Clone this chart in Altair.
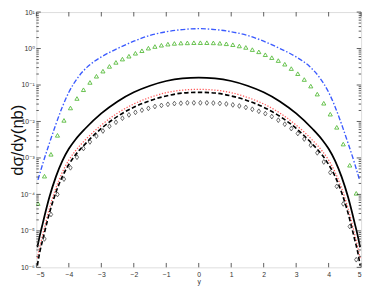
import altair as alt
import pandas as pd

# ---------------- data (log10 of dσ/dy) ----------------
y_line = [-4.97, -4.9, -4.8, -4.6, -4.4, -4.2, -4.0, -3.8, -3.5, -3.0, -2.5, -2.0, -1.5, -1.0, -0.5, 0.0,
          0.5, 1.0, 1.5, 2.0, 2.5, 3.0, 3.5, 3.8, 4.0, 4.2, 4.4, 4.6, 4.8, 4.9, 4.97]
solid_log = [-5.45, -5.15, -4.78, -4.08, -3.52, -3.08, -2.75, -2.50, -2.20, -1.78, -1.45, -1.20, -1.02, -0.89, -0.82, -0.80,
             -0.82, -0.89, -1.02, -1.20, -1.45, -1.78, -2.20, -2.50, -2.75, -3.08, -3.52, -4.08, -4.78, -5.15, -5.45]
red_log = [-5.75, -5.46, -5.09, -4.39, -3.83, -3.39, -3.06, -2.81, -2.51, -2.10, -1.77, -1.52, -1.34, -1.21, -1.14, -1.12,
           -1.14, -1.21, -1.34, -1.52, -1.77, -2.10, -2.51, -2.81, -3.06, -3.39, -3.83, -4.39, -5.09, -5.46, -5.75]
dash_log = [-5.95, -5.60, -5.23, -4.52, -3.95, -3.51, -3.18, -2.92, -2.62, -2.19, -1.86, -1.61, -1.43, -1.30, -1.22, -1.20,
            -1.22, -1.30, -1.43, -1.61, -1.86, -2.19, -2.62, -2.92, -3.18, -3.51, -3.95, -4.52, -5.23, -5.60, -5.95]

y_blue = [-4.95, -4.8, -4.6, -4.4, -4.2, -4.0, -3.7, -3.4, -3.0, -2.5, -2.0, -1.5, -1.0, -0.5, 0.0,
          0.5, 1.0, 1.5, 2.0, 2.5, 3.0, 3.4, 3.7, 4.0, 4.2, 4.4, 4.6, 4.8, 4.95]
blue_log = [-3.60, -3.15, -2.60, -2.08, -1.60, -1.20, -0.77, -0.48, -0.23, 0.00, 0.20, 0.36, 0.46, 0.52, 0.545,
            0.52, 0.46, 0.36, 0.20, 0.00, -0.23, -0.48, -0.77, -1.20, -1.60, -2.08, -2.60, -3.15, -3.60]

y_mark = [-4.95, -4.75, -4.55, -4.35, -4.15, -3.95, -3.75, -3.55, -3.35, -3.15, -2.95, -2.75, -2.55, -2.35, -2.15,
          -1.95, -1.75, -1.55, -1.35, -1.15, -0.95, -0.75, -0.55, -0.35, -0.15,
          0.05, 0.25, 0.45, 0.65, 0.85, 1.05, 1.25, 1.45, 1.65, 1.85, 2.05, 2.25, 2.45, 2.65, 2.85,
          3.05, 3.25, 3.45, 3.65, 3.85, 4.05, 4.25, 4.45, 4.65, 4.85]
tri_log = [-4.25, -3.50, -2.90, -2.38, -1.97, -1.63, -1.37, -1.13, -0.93, -0.76, -0.62, -0.49, -0.38, -0.29, -0.21,
           -0.13, -0.06, 0.01, 0.055, 0.09, 0.12, 0.14, 0.15, 0.155, 0.16,
           0.16, 0.16, 0.155, 0.145, 0.13, 0.105, 0.07, 0.03, -0.03, -0.09, -0.17, -0.25, -0.33, -0.43, -0.55,
           -0.69, -0.85, -1.03, -1.25, -1.50, -1.80, -2.16, -2.62, -3.20, -3.97]
dia_log = [-6.10, -5.22, -4.55, -4.00, -3.58, -3.27, -2.98, -2.74, -2.56, -2.40, -2.26, -2.13, -2.02, -1.91, -1.82,
           -1.75, -1.69, -1.64, -1.59, -1.56, -1.53, -1.51, -1.50, -1.49, -1.49,
           -1.49, -1.49, -1.495, -1.505, -1.52, -1.545, -1.575, -1.615, -1.665, -1.72, -1.785, -1.865, -1.965, -2.075, -2.195,
           -2.33, -2.48, -2.65, -2.86, -3.11, -3.40, -3.78, -4.26, -4.88, -5.79]

x_ticks = [-5, -4, -3, -2, -1, 0, 1, 2, 3, 4, 5]
decade_exp = [-6, -5, -4, -3, -2, -1, 0, 1]

# ---------------- helpers ----------------
def frame(xs, logs):
    return pd.DataFrame({"y": xs, "v": [10 ** l for l in logs]})

W, H = 332, 261
xs = alt.Scale(domain=[-5, 5], nice=False, zero=False)
ys = alt.Scale(type="log", domain=[1e-6, 10], nice=False)

sup = {"-": "⁻", "0": "⁰", "1": "¹", "2": "²", "3": "³", "4": "⁴", "5": "⁵", "6": "⁶", "7": "⁷", "8": "⁸", "9": "⁹"}
expr = "''"
for e in decade_exp:
    lab = "10" + "".join(sup[c] for c in str(e))
    expr = f"(abs(log(datum.value)/log(10) - ({e})) < 0.01) ? '{lab}' : ({expr})"

x_axis = alt.Axis(values=x_ticks, ticks=False, tickSize=0, domain=False, grid=False, labelFontSize=7,
                  labelFont="Liberation Sans", labelColor="#333", labelPadding=3, title="y",
                  titleFontSize=7, titleFont="Liberation Sans", titleFontWeight="normal", titleColor="#333",
                  titleY=16.5, titleBaseline="alphabetic", titleX=W / 2)
y_axis = alt.Axis(values=[10.0 ** e for e in decade_exp], ticks=False, tickSize=0, domain=False, grid=False,
                  labelFontSize=7, labelFont="Liberation Sans, DejaVu Sans", labelColor="#333", labelPadding=2,
                  labelExpr=expr, title="dσ/dy(nb)", titleFontSize=17, titleFont="Liberation Sans",
                  titleFontWeight="normal", titleColor="#111", titleAngle=-90, titleX=-14.5, titleY=H / 2,
                  titleAlign="center", titleBaseline="alphabetic")

X = alt.X("y:Q", scale=xs, axis=x_axis)
Y = alt.Y("v:Q", scale=ys, axis=y_axis)

blue = alt.Chart(frame(y_blue, blue_log)).mark_line(
    color="#3b5bff", strokeWidth=1.4, strokeDash=[5, 2, 1.5, 2], interpolate="monotone", clip=True
).encode(x=X, y=Y)
tri = alt.Chart(frame(y_mark, tri_log)).mark_point(
    shape="triangle-up", size=18, color="#55bb3a", strokeWidth=0.9, filled=False, clip=True, opacity=1
).encode(x=X, y=Y)
solid = alt.Chart(frame(y_line, solid_log)).mark_line(
    color="black", strokeWidth=1.8, interpolate="monotone", clip=True
).encode(x=X, y=Y)
red = alt.Chart(frame(y_line, red_log)).mark_line(
    color="#ff5a5a", strokeWidth=1.3, strokeDash=[1.3, 1.7], interpolate="monotone", clip=True
).encode(x=X, y=Y)
dashed = alt.Chart(frame(y_line, dash_log)).mark_line(
    color="black", strokeWidth=1.7, strokeDash=[4.5, 2.5], interpolate="monotone", clip=True
).encode(x=X, y=Y)
dia = alt.Chart(frame(y_mark, dia_log)).mark_point(
    shape="M0,-1L0.7,0L0,1L-0.7,0Z", size=24, color="#444", strokeWidth=0.8, filled=False, clip=True, opacity=1
).encode(x=X, y=Y)

# ---------------- inward ticks (matlab style box) ----------------
maj = pd.DataFrame({"v": [10.0 ** e for e in decade_exp]})
mnr = pd.DataFrame({"v": [m * 10.0 ** e for e in decade_exp[:-1] for m in range(2, 10)]})
xt = pd.DataFrame({"y": x_ticks})

def yt(df, x1, x2):
    return alt.Chart(df).mark_rule(color="#333", strokeWidth=0.8).encode(
        y=Y, x=alt.value(x1), x2=alt.value(x2))

def xtk(y1, y2):
    return alt.Chart(xt).mark_rule(color="#333", strokeWidth=0.8).encode(
        x=X, y=alt.value(y1), y2=alt.value(y2))

ticks = [yt(maj, 0, 4.5), yt(maj, W - 4.5, W), yt(mnr, 0, 2.5), yt(mnr, W - 2.5, W),
         xtk(H - 4.5, H), xtk(0, 4.5)]

chart = alt.layer(blue, tri, solid, red, dashed, dia, *ticks).properties(
    width=W, height=H,
    autosize=alt.AutoSizeParams(type="none"),
    padding={"left": 29, "top": 1, "right": 5, "bottom": 20},
).configure_view(stroke="#333", strokeWidth=1).configure(background="white")

chart.save("out.html", embed_options={"renderer": "svg", "actions": False})
